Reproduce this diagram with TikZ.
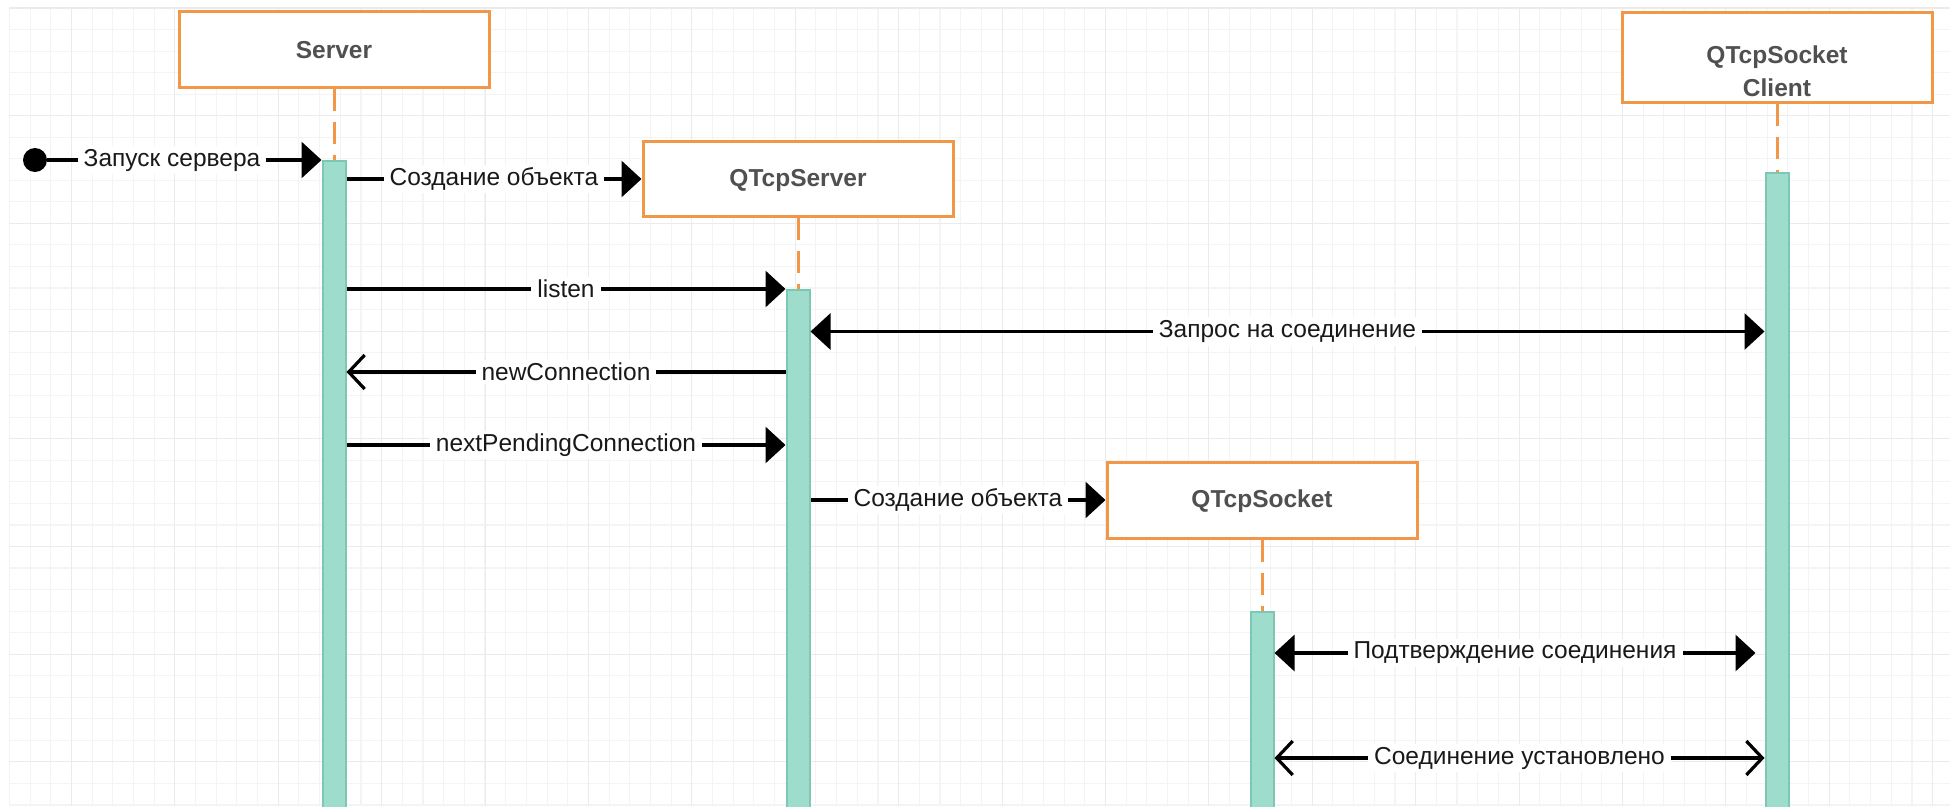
\documentclass[tikz,border=0pt]{standalone}
\usepackage{fontspec}
\setmainfont{Liberation Sans}
\usetikzlibrary{arrows.meta,calc}
\definecolor{boxorange}{RGB}{240,151,74}
\definecolor{barfill}{RGB}{158,221,204}
\definecolor{barline}{RGB}{124,200,180}
\definecolor{gridminor}{RGB}{244,244,244}
\definecolor{gridmajor}{RGB}{235,235,235}
\definecolor{boxtext}{RGB}{80,80,80}
\tikzset{
  objbox/.style={draw=boxorange, line width=3pt, fill=white, minimum width=310pt,
    minimum height=76pt, inner sep=0pt},
  boxlbl/.style={inner sep=0pt, font=\fontsize{24.5}{33}\selectfont\bfseries, text=boxtext},
  lifeline/.style={draw=boxorange, line width=3pt, dash pattern=on 22pt off 11pt},
  actbar/.style={draw=barline, fill=barfill, line width=2pt, minimum width=23pt,
    inner sep=0pt, anchor=north},
  msg/.style={line width=3.2pt, -{Triangle[length=20pt,width=36pt]}},
  biarrow/.style={line width=3.2pt, {Triangle[length=20pt,width=36pt]}-{Triangle[length=20pt,width=36pt]}},
  ret/.style={line width=3.2pt, -{Straight Barb[length=16pt,width=34pt]}},
  biopen/.style={line width=3.2pt, {Straight Barb[length=16pt,width=34pt]}-{Straight Barb[length=16pt,width=34pt]}},
  lbl/.style={fill=white, inner xsep=6pt, inner ysep=3pt,
    font=\fontsize{24.5}{29}\selectfont, text=black!90},
  startdot/.style={circle, fill=black, minimum size=24pt, inner sep=0pt}
}
\begin{document}
\begin{tikzpicture}[x=1pt,y=-1pt]
\useasboundingbox (0,0) rectangle (1950,806);
\clip (0,0) rectangle (1950,806);
\fill[white] (0,0) rectangle (1950,806);
% grid
\foreach \i in {0,...,94} \draw[gridminor, line width=1.1pt] ({9.4+20.68*\i},8) -- ({9.4+20.68*\i},806);
\foreach \j in {0,...,37} \draw[gridminor, line width=1.1pt] (9,{8+21.54*\j}) -- (1950,{8+21.54*\j});
\foreach \i in {0,...,18} \draw[gridmajor, line width=1.1pt] ({71.5+103.4*\i},8) -- ({71.5+103.4*\i},806);
\foreach \j in {0,...,7} \draw[gridmajor, line width=1.1pt] (9,{8+107.7*\j}) -- (1950,{8+107.7*\j});

% objects
\node[objbox] (server) at (334,49) {};
\node[boxlbl] (serverlbl) at (334,50) {Server};
\node[objbox, minimum height=75pt] (qserver) at (798,179) {};
\node[boxlbl] (qserverlbl) at (798,180) {QTcpServer};
\node[objbox] (qsocket) at (1262,500) {};
\node[boxlbl] (qsocketlbl) at (1262,501) {QTcpSocket};
\node[objbox, minimum height=90pt] (client) at (1777,57.5) {};
\node[boxlbl, align=center] (clientlbl) at (1777,71) {QTcpSocket\\Client};

% activation bars
\node[actbar, minimum height=660pt] (sbar) at (334,160) {};
\node[actbar, minimum height=530pt] (qbar) at (798,289) {};
\node[actbar, minimum height=210pt] (kbar) at (1262,611) {};
\node[actbar, minimum height=650pt] (cbar) at (1777,172) {};

% lifelines
\draw[lifeline] (server.south) -- (sbar.north);
\draw[lifeline] (qserver.south) -- (qbar.north);
\draw[lifeline] (qsocket.south) -- (kbar.north);
\draw[lifeline] (client.south) -- (cbar.north);

% message heights
\coordinate (y2) at (0,289);
\coordinate (y3) at (0,331.5);
\coordinate (y4) at (0,372);
\coordinate (y5) at (0,445);
\coordinate (y7) at (0,653);
\coordinate (y8) at (0,758);
\coordinate (y7r) at ($(cbar.west |- y7)+(-9,0)$);

% start
\node[startdot] (start) at (35,160) {};
\draw[msg] (start) -- (sbar.west |- start) node[lbl, pos=0.455] {Запуск сервера};

% messages
\draw[msg] (sbar.east |- qserver.west) -- (qserver.west) node[lbl, midway] {Создание объекта};
\draw[msg] (sbar.east |- y2) -- (qbar.west |- y2) node[lbl, midway] {listen};
\draw[biarrow] (qbar.east |- y3) -- (cbar.west |- y3) node[lbl, midway] {Запрос на соединение};
\draw[ret] (qbar.west |- y4) -- (sbar.east |- y4) node[lbl, midway] {newConnection};
\draw[msg] (sbar.east |- y5) -- (qbar.west |- y5) node[lbl, midway] {nextPendingConnection};
\draw[msg] (qbar.east |- qsocket.west) -- (qsocket.west) node[lbl, midway] {Создание объекта};
\draw[biarrow] (kbar.east |- y7) -- (y7r) node[lbl, midway] {Подтверждение соединения};
\draw[biopen] (kbar.east |- y8) -- (cbar.west |- y8) node[lbl, midway] {Соединение установлено};
\end{tikzpicture}
\end{document}
